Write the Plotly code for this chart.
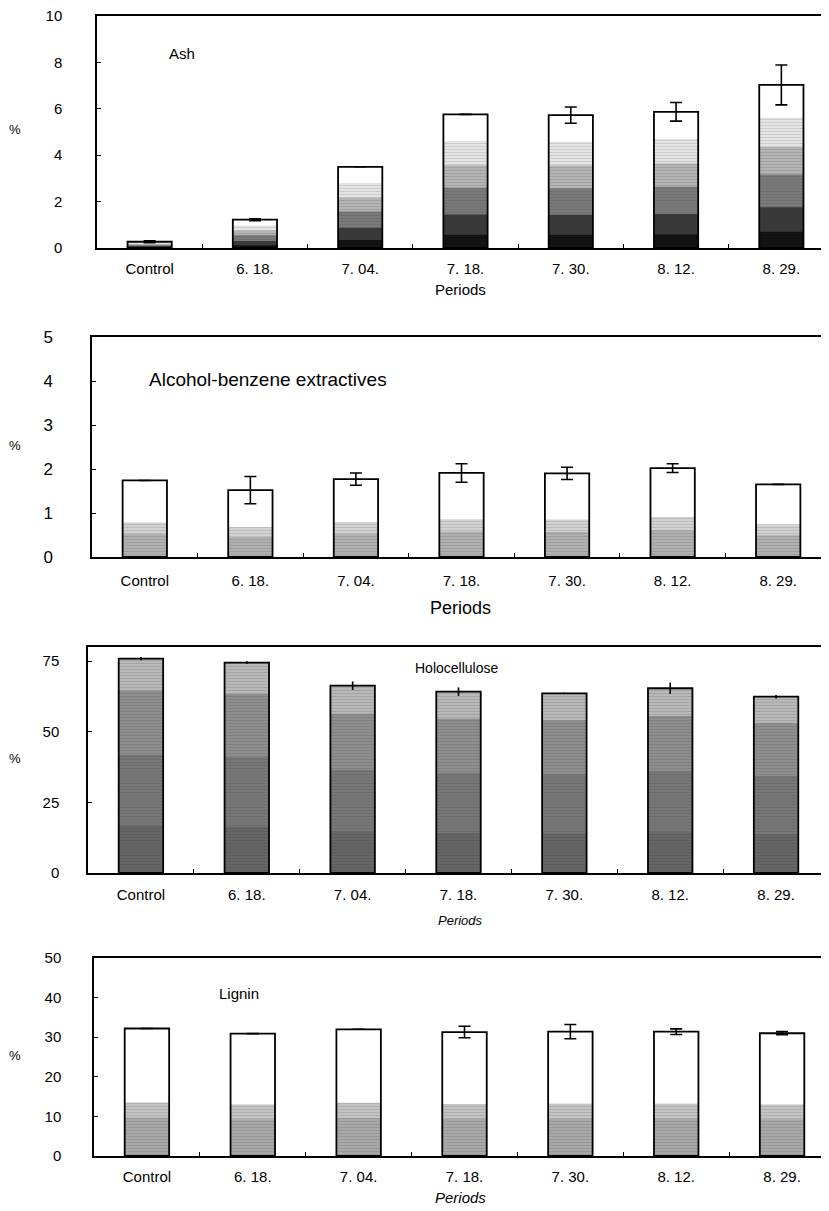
import plotly.graph_objects as go

# ---------------- data ----------------
periods = ["Control", "6. 18.", "7. 04.", "7. 18.", "7. 30.", "8. 12.", "8. 29."]

ash = [0.27, 1.22, 3.50, 5.76, 5.73, 5.87, 7.03]
ash_err = [0.04, 0.04, 0.0, 0.0, 0.35, 0.40, 0.86]

extractives = [1.74, 1.52, 1.77, 1.91, 1.90, 2.02, 1.65]
extractives_err = [0.0, 0.31, 0.14, 0.21, 0.14, 0.10, 0.0]

holocellulose = [75.9, 74.5, 66.3, 64.2, 63.6, 65.4, 62.4]
holocellulose_err = [0.6, 0.5, 1.5, 1.5, 0.3, 2.0, 0.6]

lignin = [32.2, 30.9, 32.0, 31.3, 31.4, 31.4, 31.0]
lignin_err = [0.0, 0.0, 0.0, 1.45, 1.8, 0.7, 0.4]

# ---------------- layout helpers ----------------
W, H = 829, 1211
OFF = 8  # page body margin in the browser
FONT = "Liberation Sans, Arial, sans-serif"


def px_x(px):
    return (px - OFF) / W


def px_y(px):
    return 1 - (px - OFF) / H


panels = [
    dict(name="Ash", vals=ash, err=ash_err, yr=[0, 10], dt=2, x0=97, x1=834, top=16, bot=248,
         shades=[(0.80, "#e4e4e4"), (0.62, "#b4b4b4"), (0.45, "#7a7a7a"), (0.25, "#3a3a3a"), (0.10, "#111111")],
         cap=6, label=("Ash", 167, 53, 15), tickfs=15, xfs=15, standoff=30, xstand=6,
         periods=(290, False, 15)),
    dict(name="Alcohol-benzene extractives", vals=extractives, err=extractives_err, yr=[0, 5], dt=1,
         x0=92, x1=831, top=337, bot=557,
         shades=[(0.45, "#d2d2d2"), (0.30, "#b0b0b0")],
         cap=6, label=("Alcohol-benzene extractives", 147, 379, 19), tickfs=17, xfs=15, standoff=34,
         xstand=9, periods=(608, False, 18)),
    dict(name="Holocellulose", vals=holocellulose, err=holocellulose_err, yr=[0, 80], dt=25,
         x0=88, x1=829, top=647, bot=873,
         shades=[(1.0, "#b8b8b8"), (0.85, "#8e8e8e"), (0.55, "#777777"), (0.22, "#666666")],
         cap=0, label=("Holocellulose", 413, 668, 14), tickfs=15, xfs=15, standoff=24, xstand=7,
         periods=(920, True, 13)),
    dict(name="Lignin", vals=lignin, err=lignin_err, yr=[0, 50], dt=10,
         x0=94, x1=835, top=958, bot=1156,
         shades=[(0.42, "#c4c4c4"), (0.30, "#a8a8a8")],
         cap=6, label=("Lignin", 217, 993, 15), tickfs=15, xfs=15, standoff=28, xstand=6,
         periods=(1197, True, 15)),
]

BAR_W = 0.42

fig = go.Figure()
annotations = []

for i, p in enumerate(panels):
    n = "" if i == 0 else str(i + 1)
    xa, ya = "x" + n, "y" + n

    # shading layers (decorative fill, scaled from each bar's own value)
    for frac, col in p["shades"]:
        fig.add_trace(go.Bar(
            x=periods, y=[v * frac for v in p["vals"]], width=BAR_W,
            marker=dict(color=col, line=dict(width=0),
                        pattern=dict(shape="-", fgcolor="rgba(40,40,40,0.35)", size=3,
                                     solidity=0.25, fillmode="overlay")),
            xaxis=xa, yaxis=ya, hoverinfo="skip", showlegend=False))

    # outline bars with error bars (the data marks)
    fig.add_trace(go.Bar(
        x=periods, y=p["vals"], width=BAR_W, name=p["name"],
        marker=dict(color="rgba(0,0,0,0)", line=dict(color="black", width=1.8)),
        error_y=dict(type="data", array=p["err"], visible=True, color="black",
                     thickness=1.6, width=p["cap"]),
        xaxis=xa, yaxis=ya, showlegend=False))

    xd = [px_x(p["x0"]), min(1.0, px_x(p["x1"]))]
    yd = [px_y(p["bot"]), px_y(p["top"])]
    fig.update_layout(**{
        ("xaxis" + n): dict(
            domain=xd, anchor=ya, type="category", range=[-0.5, 6.5], automargin=False,
            showline=True, linecolor="black", linewidth=1.5, mirror=True,
            ticks="inside", ticklen=4, tickcolor="black", tickson="boundaries",
            tickfont=dict(family=FONT, size=p["xfs"], color="black"),
            ticklabelstandoff=p["xstand"], ticklabeloverflow="allow",
            showgrid=False, zeroline=False, fixedrange=True),
        ("yaxis" + n): dict(
            domain=yd, anchor=xa, range=p["yr"], dtick=p["dt"], tick0=0, automargin=False,
            showline=True, linecolor="black", linewidth=1.5, mirror=False,
            ticks="inside", ticklen=4, tickcolor="black",
            tickfont=dict(family=FONT, size=p["tickfs"], color="black"),
            ticklabelstandoff=p["standoff"], ticklabeloverflow="allow",
            showgrid=False, zeroline=False, fixedrange=True),
    })

    # panel label
    txt, lx, ly, lfs = p["label"]
    annotations.append(dict(text=txt, x=px_x(lx), y=px_y(ly), xref="paper", yref="paper",
                            xanchor="left", yanchor="middle", showarrow=False,
                            font=dict(family=FONT, size=lfs, color="black")))
    # y label
    annotations.append(dict(text="%", x=px_x(15), y=px_y((p["top"] + p["bot"]) / 2 - 2), xref="paper",
                            yref="paper", xanchor="center", yanchor="middle", showarrow=False,
                            font=dict(family=FONT, size=13, color="black")))
    # x title
    pyy, ital, pfs = p["periods"]
    ptxt = "<i>Periods</i>" if ital else "Periods"
    annotations.append(dict(text=ptxt, x=px_x(460), y=px_y(pyy), xref="paper",
                            yref="paper", xanchor="center", yanchor="middle", showarrow=False,
                            font=dict(family=FONT, size=pfs, color="black")))

fig.update_layout(
    width=W, height=H, margin=dict(l=0, r=0, t=0, b=0, autoexpand=False),
    paper_bgcolor="white", plot_bgcolor="white",
    barmode="overlay", showlegend=False, annotations=annotations,
)

fig.write_html("out.html")
